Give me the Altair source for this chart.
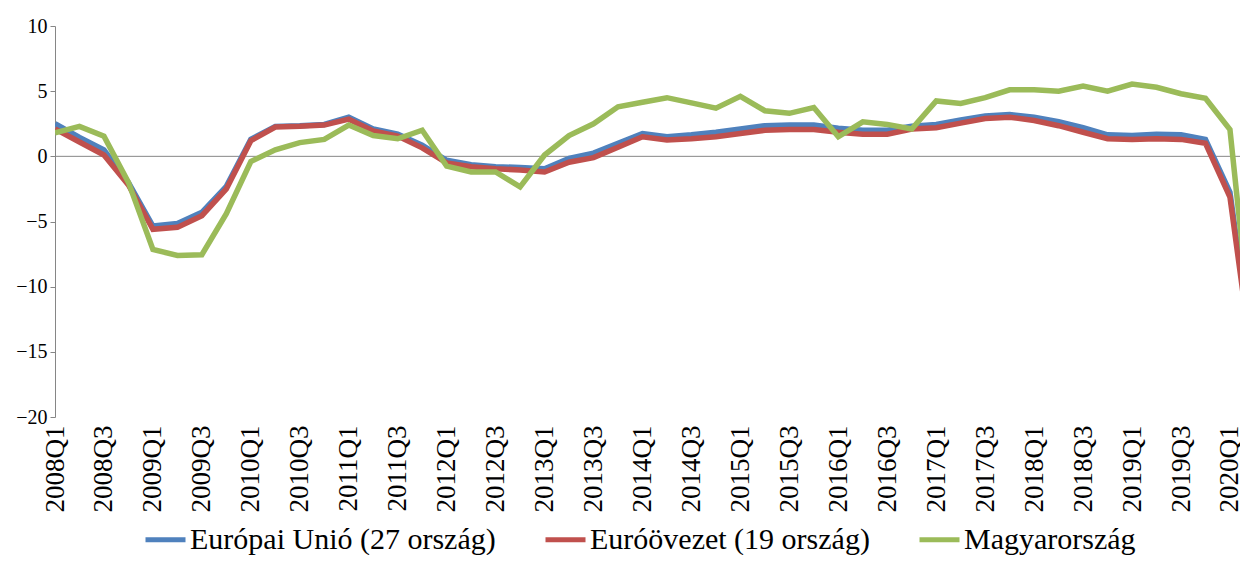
import altair as alt
import pandas as pd

quarters = [
    "2008Q1", "2008Q2", "2008Q3", "2008Q4",
    "2009Q1", "2009Q2", "2009Q3", "2009Q4",
    "2010Q1", "2010Q2", "2010Q3", "2010Q4",
    "2011Q1", "2011Q2", "2011Q3", "2011Q4",
    "2012Q1", "2012Q2", "2012Q3", "2012Q4",
    "2013Q1", "2013Q2", "2013Q3", "2013Q4",
    "2014Q1", "2014Q2", "2014Q3", "2014Q4",
    "2015Q1", "2015Q2", "2015Q3", "2015Q4",
    "2016Q1", "2016Q2", "2016Q3", "2016Q4",
    "2017Q1", "2017Q2", "2017Q3", "2017Q4",
    "2018Q1", "2018Q2", "2018Q3", "2018Q4",
    "2019Q1", "2019Q2", "2019Q3", "2019Q4",
    "2020Q1", "2020Q2",
]

series_names = ["Európai Unió (27 ország)", "Euróövezet (19 ország)", "Magyarország"]
series_colors = ["#4F81BD", "#C0504D", "#9BBB59"]

eu27 = [2.5, 1.45, 0.5, -2.0, -5.35, -5.15, -4.3, -2.3, 1.3, 2.3, 2.35, 2.45,
        3.0, 2.1, 1.7, 0.85, -0.3, -0.65, -0.8, -0.85, -0.95, -0.15, 0.25, 1.0,
        1.75, 1.5, 1.65, 1.85, 2.1, 2.35, 2.4, 2.4, 2.15, 2.0, 2.0, 2.3,
        2.45, 2.8, 3.1, 3.2, 3.0, 2.65, 2.2, 1.65, 1.6, 1.7, 1.65, 1.3,
        -2.75, -16.3]

ea19 = [2.1, 1.1, 0.1, -2.2, -5.6, -5.45, -4.55, -2.5, 1.2, 2.25, 2.3, 2.4,
        2.85, 1.95, 1.55, 0.65, -0.5, -0.8, -0.95, -1.05, -1.2, -0.45, -0.1, 0.7,
        1.5, 1.25, 1.35, 1.5, 1.75, 2.0, 2.05, 2.05, 1.85, 1.7, 1.7, 2.1,
        2.2, 2.55, 2.9, 3.0, 2.75, 2.35, 1.85, 1.35, 1.3, 1.35, 1.3, 1.0,
        -3.13, -17.0]

hu = [1.8, 2.3, 1.55, -2.0, -7.15, -7.6, -7.55, -4.4, -0.4, 0.5, 1.05, 1.3,
      2.4, 1.6, 1.35, 2.0, -0.75, -1.2, -1.2, -2.35, 0.1, 1.6, 2.5, 3.8,
      4.15, 4.5, 4.1, 3.7, 4.6, 3.5, 3.3, 3.75, 1.5, 2.65, 2.45, 2.1,
      4.25, 4.05, 4.5, 5.1, 5.1, 5.0, 5.4, 5.0, 5.55, 5.3, 4.8, 4.45,
      2.05, -15.9]

y_ticks = [-20, -15, -10, -5, 0, 5, 10]
x_tick_idx = list(range(0, 49, 2))

rows = []
for name, vals in zip(series_names, [eu27, ea19, hu]):
    for i, v in enumerate(vals):
        rows.append({"idx": i, "quarter": quarters[i], "series": name, "value": v})
df = pd.DataFrame(rows)

label_expr = "[" + ",".join("'" + q + "'" for q in quarters) + "][datum.value]"

FONT = "Liberation Serif, Times New Roman, DejaVu Serif, serif"

x_enc = alt.X(
    "idx:Q",
    scale=alt.Scale(domain=[0, 48.41], nice=False, zero=False),
    axis=alt.Axis(
        values=x_tick_idx, labelExpr=label_expr, labelAngle=-90,
        labelAlign="right", labelBaseline="middle", labelPadding=8,
        domain=False, ticks=False, grid=False, title=None,
        labelFont=FONT, labelFontSize=27, labelColor="#000000",
        labelOverlap=False, labelBound=False, labelFlush=False,
    ),
)
y_enc = alt.Y(
    "value:Q",
    scale=alt.Scale(domain=[-20, 10], nice=False),
    axis=alt.Axis(
        values=y_ticks, grid=False, title=None,
        domainColor="#868686", tickColor="#868686", tickSize=5,
        labelFont=FONT, labelFontSize=20, labelColor="#000000",
        labelPadding=3, labelFlush=False, labelOverlap=False,
    ),
)

zero_rule = alt.Chart(pd.DataFrame({"z": [0]})).mark_rule(
    color="#868686", strokeWidth=1
).encode(y=alt.Y("z:Q", scale=alt.Scale(domain=[-20, 10], nice=False)))

lines = alt.Chart(df).mark_line(strokeWidth=5.5, clip=True).encode(
    x=x_enc,
    y=y_enc,
    color=alt.Color(
        "series:N",
        scale=alt.Scale(domain=series_names, range=series_colors),
        sort=series_names,
        legend=alt.Legend(
            title=None, orient="none", legendX=88, legendY=491,
            direction="horizontal", symbolType="stroke", symbolSize=1600,
            symbolStrokeWidth=5, labelFont=FONT, labelFontSize=30,
            labelColor="#000000", labelOffset=2, columnPadding=39,
            labelLimit=0, padding=0,
        ),
    ),
    order=alt.Order("idx:Q"),
)

chart = alt.layer(zero_rule, lines).properties(
    width=1185,
    height=391,
    autosize=alt.AutoSizeParams(type="none"),
    padding={"left": 47, "top": 18, "right": 0, "bottom": 138},
    background="#ffffff",
).configure_view(stroke=None)

chart.save("out.html", embed_options={"renderer": "svg", "actions": False})
